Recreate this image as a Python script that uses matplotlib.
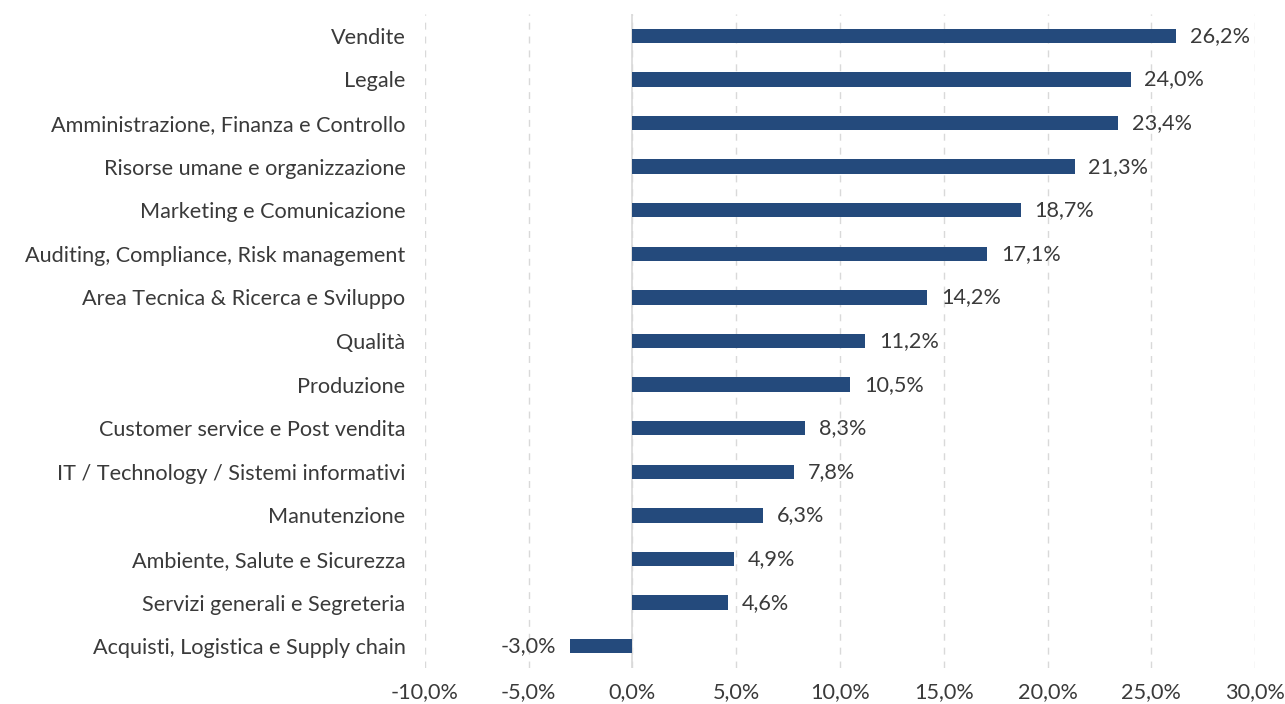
import matplotlib.pyplot as plt
from matplotlib.ticker import FuncFormatter

categories = [
    "Vendite",
    "Legale",
    "Amministrazione, Finanza e Controllo",
    "Risorse umane e organizzazione",
    "Marketing e Comunicazione",
    "Auditing, Compliance, Risk management",
    "Area Tecnica & Ricerca e Sviluppo",
    "Qualità",
    "Produzione",
    "Customer service e Post vendita",
    "IT / Technology / Sistemi informativi",
    "Manutenzione",
    "Ambiente, Salute e Sicurezza",
    "Servizi generali e Segreteria",
    "Acquisti, Logistica e Supply chain",
]
values = [26.2, 24.0, 23.4, 21.3, 18.7, 17.1, 14.2, 11.2, 10.5, 8.3, 7.8, 6.3, 4.9, 4.6, -3.0]
x_ticks = [-10, -5, 0, 5, 10, 15, 20, 25, 30]

bar_color = '#244A7C'
text_color = '#3a3a3a'

plt.rcParams['font.family'] = ['Lato', 'DejaVu Sans']

fig = plt.figure(figsize=(12.85, 7.04), dpi=100)
ax = fig.add_axes([0.3307, 0.0511, 0.6460, 0.9290])

pos = list(range(len(categories)))
ax.barh(pos, values, height=0.33, color=bar_color, zorder=3)

ax.set_xlim(-10, 30)
ax.set_ylim(len(categories) - 0.5, -0.5)
ax.set_xticks(x_ticks)
ax.xaxis.set_major_formatter(FuncFormatter(lambda v, p: f"{v:.1f}%".replace('.', ',')))
ax.set_yticks(pos)
ax.set_yticklabels(categories)

# dashed grid, solid zero line
ax.set_axisbelow(True)
ax.xaxis.grid(True, linestyle=(0, (5, 5)), color='#d9d9d9', linewidth=1)
ax.axvline(0, color='#d9d9d9', linewidth=1.2, zorder=2)

for s in ax.spines.values():
    s.set_visible(False)
ax.tick_params(axis='both', length=0, labelsize=15.6, colors=text_color)
ax.tick_params(axis='y', pad=14)
ax.tick_params(axis='x', pad=10)

# value labels
for i, v in enumerate(values):
    label = f"{v:.1f}%".replace('.', ',')
    if v >= 0:
        ax.annotate(label, (v, i), xytext=(10, 0), textcoords='offset points',
                    va='center', ha='left', fontsize=15.6, color=text_color)
    else:
        ax.annotate(label, (v, i), xytext=(-10, 0), textcoords='offset points',
                    va='center', ha='right', fontsize=15.6, color=text_color)

plt.savefig('out.png', dpi=100)
